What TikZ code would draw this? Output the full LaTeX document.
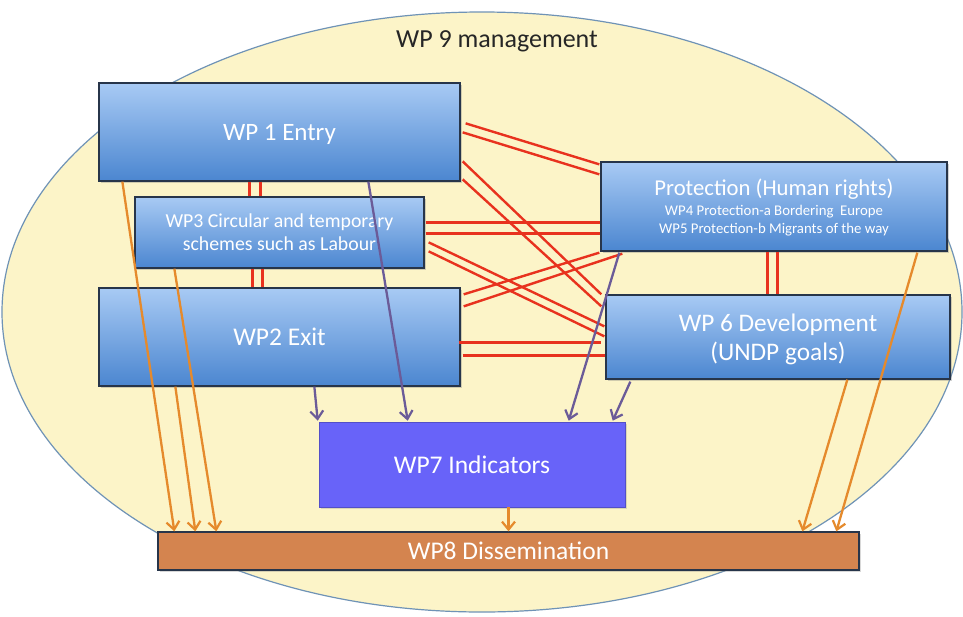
\documentclass[tikz,border=0pt]{standalone}
\usepackage{fontspec}
\setmainfont{Carlito}
\usetikzlibrary{arrows.meta,calc,shadows}
\definecolor{ellfill}{HTML}{FCF4C8}
\definecolor{elldraw}{HTML}{6F93B6}
\definecolor{boxtop}{HTML}{A8CAF4}
\definecolor{boxbot}{HTML}{4B86D0}
\definecolor{boxline}{HTML}{27354A}
\definecolor{indfill}{HTML}{6863F9}
\definecolor{disfill}{HTML}{D4844F}
\definecolor{redline}{HTML}{E8321E}
\definecolor{purpline}{HTML}{6B5B98}
\definecolor{orline}{HTML}{E58A2C}
\tikzset{
  bluebox/.style={draw=boxline, line width=1.3pt, top color=boxtop, bottom color=boxbot,
    text=white, align=center, inner sep=0pt, text depth=0pt,
    drop shadow={opacity=0.35, shadow xshift=1.5pt, shadow yshift=-2pt}},
  redpair/.style={draw=redline, line width=2.4pt},
  purparrow/.style={draw=purpline, line width=2.3pt, -{Straight Barb[length=8pt,width=13pt,line width=2.2pt]}},
  orarrow/.style={draw=orline, line width=2.3pt, -{Straight Barb[length=8pt,width=13pt,line width=2.2pt]}},
}
\begin{document}
\begin{tikzpicture}[x=1pt,y=-1pt]
\useasboundingbox (0,0) rectangle (963,616);
\fill[white] (0,0) rectangle (963,616);
\begin{scope}
\clip (0,0) rectangle (963,616);
\draw[elldraw, line width=1.2pt, fill=ellfill] (482,312) ellipse [x radius=480, y radius=300];
\end{scope}
\node[text=black!85, font=\fontsize{26}{30}\selectfont] (wp9) at (497,41) {WP 9 management};

% boxes
\node[bluebox, minimum width=361pt, minimum height=98pt, font=\fontsize{25}{28}\selectfont] (wp1) at (279.5,132) {WP 1 Entry};
\node[bluebox, minimum width=289pt, minimum height=71pt, font=\fontsize{19.8}{23}\selectfont] (wp3) at (279.5,232.5) {WP3 Circular and temporary\\schemes such as Labour};
\node[bluebox, minimum width=361pt, minimum height=98pt, font=\fontsize{25.5}{28}\selectfont] (wp2) at (279.5,337) {WP2 Exit};
\node[bluebox, minimum width=346pt, minimum height=89pt, font=\fontsize{14.8}{18}\selectfont] (prot) at (774,206.5)
  {{\fontsize{22.7}{26}\selectfont Protection (Human rights)}\\[2pt]
   WP4 Protection-a Bordering\ \ Europe\\
   WP5 Protection-b Migrants of the way};
\node[bluebox, minimum width=344pt, minimum height=84pt, font=\fontsize{25.3}{29}\selectfont] (wp6) at (778,337) {WP 6 Development\\(UNDP goals)};
\node[fill=indfill, draw=indfill!80!black, line width=0.6pt, text=white, minimum width=306pt, minimum height=85pt, inner sep=0pt, text depth=0pt, font=\fontsize{25.5}{29}\selectfont,
  drop shadow={opacity=0.25, shadow xshift=1.5pt, shadow yshift=-2pt}] (wp7) at (472,464.5) {WP7 Indicators};
\node[fill=disfill, draw=boxline, line width=1.3pt, text=white, minimum width=701pt, minimum height=38pt, inner sep=0pt, text depth=0pt, font=\fontsize{25.5}{28}\selectfont,
  drop shadow={opacity=0.3, shadow xshift=1.5pt, shadow yshift=-2pt}] (wp8) at (508.5,551) {WP8 Dissemination};

% red double links
\draw[redpair] ($(wp1.south west)+(151,0)$) -- ($(wp3.north west)+(115,0)$);
\draw[redpair] ($(wp1.south west)+(162,0)$) -- ($(wp3.north west)+(126,0)$);
\draw[redpair] ($(wp3.south west)+(118,0)$) -- ($(wp2.north west)+(154,0)$);
\draw[redpair] ($(wp3.south west)+(128,0)$) -- ($(wp2.north west)+(164,0)$);
\draw[redpair] ($(prot.south west)+(167,0)$) -- ($(wp6.north west)+(162,0)$);
\draw[redpair] ($(prot.south west)+(177,0)$) -- ($(wp6.north west)+(172,0)$);
% WP1 -> Protection
\draw[redpair] ($(wp1.north east)+(5,41)$) -- ($(prot.north west)+(-1,3)$);
\draw[redpair] ($(wp1.north east)+(2,50)$) -- ($(prot.north west)+(-1,13)$);
% WP1 -> WP6
\draw[redpair] ($(wp1.north east)+(2,79)$) -- ($(wp6.north west)+(-4,0)$);
\draw[redpair] ($(wp1.north east)+(2,97)$) -- ($(wp6.north west)+(-4,12)$);
% WP3 -> Protection
\draw[redpair] ($(wp3.north east)+(1,26)$) -- ($(prot.north west)+(0,61)$);
\draw[redpair] ($(wp3.north east)+(1,37)$) -- ($(prot.north west)+(0,72)$);
% WP3 -> WP6
\draw[redpair] ($(wp3.north east)+(4,46)$) -- ($(wp6.north west)+(-1,32)$);
\draw[redpair] ($(wp3.north east)+(4,55)$) -- ($(wp6.north west)+(-1,42)$);
% WP2 -> Protection
\draw[redpair] ($(wp2.north east)+(3,7)$) -- ($(prot.south west)+(-1,1)$);
\draw[redpair] ($(wp2.north east)+(3,19)$) -- ($(prot.south west)+(22,2)$);
% WP2 -> WP6
\draw[redpair] ($(wp2.north east)+(-2,55)$) -- ($(wp6.north west)+(-4,48)$);
\draw[redpair] ($(wp2.north east)+(2,68)$) -- ($(wp6.north west)+(0,61)$);

% purple arrows to WP7
\draw[purparrow] ($(wp1.south west)+(270,0)$) -- ($(wp7.north west)+(89,-1)$);
\draw[purparrow] ($(wp2.south west)+(216,0)$) -- ($(wp7.north west)+(-1,-1)$);
\draw[purparrow] ($(prot.south west)+(19,1)$) -- ($(wp7.north west)+(250,-1)$);
\draw[purparrow] ($(wp6.south west)+(25,2)$) -- ($(wp7.north west)+(294,-1)$);

% orange arrows to WP8
\draw[orarrow] ($(wp1.south west)+(24,0)$) -- ($(wp8.north west)+(17,0)$);
\draw[orarrow] ($(wp2.south west)+(77,0)$) -- ($(wp8.north west)+(38,0)$);
\draw[orarrow] ($(wp3.south west)+(40,0)$) -- ($(wp8.north west)+(59,0)$);
\draw[orarrow] (wp7.south -| wp8.north) -- (wp8.north);
\draw[orarrow] ($(wp6.south west)+(242,0)$) -- ($(wp8.north west)+(645,0)$);
\draw[orarrow] ($(prot.south west)+(317,1)$) -- ($(wp8.north west)+(679,0)$);
\end{tikzpicture}
\end{document}
